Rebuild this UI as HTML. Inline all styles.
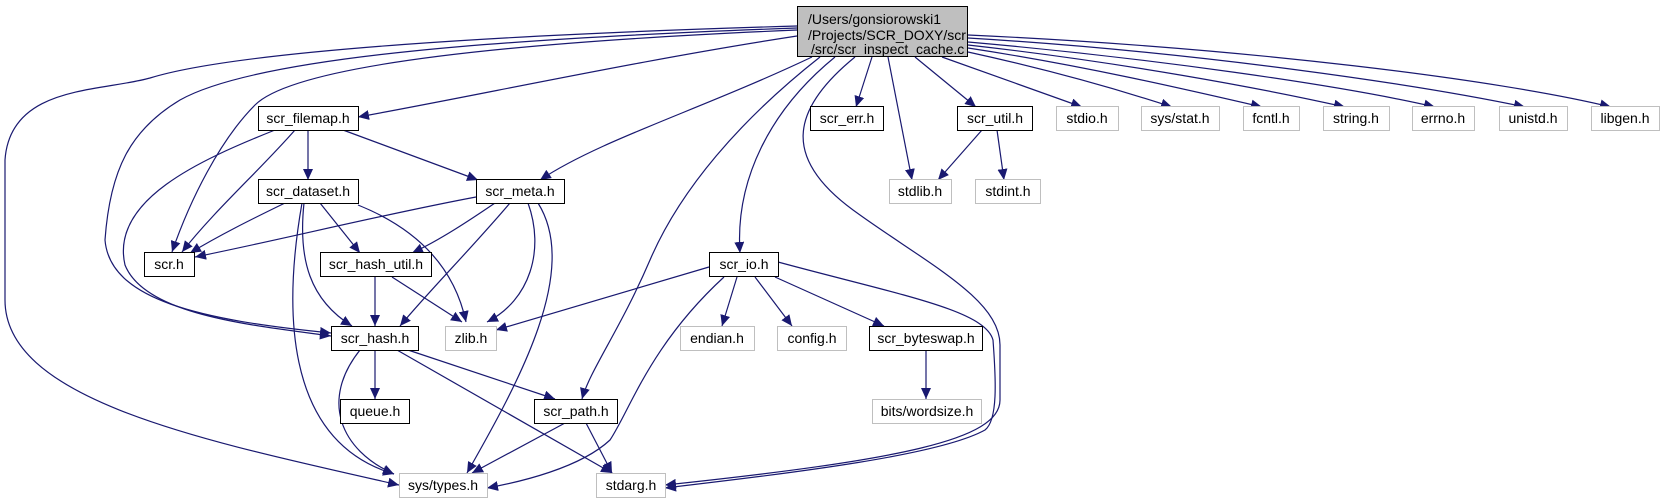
<!DOCTYPE html>
<html><head><meta charset="utf-8"><style>
html,body{margin:0;padding:0;background:#fff;}
svg{display:block;}
text{font-family:"Liberation Sans",Helvetica,Arial,sans-serif;font-size:14px;fill:#000;}
</style></head><body>
<svg width="1665" height="503" viewBox="0 0 1665 503" xmlns="http://www.w3.org/2000/svg">
<defs>
<marker id="a" markerUnits="userSpaceOnUse" markerWidth="12" markerHeight="10" refX="11" refY="5" orient="auto">
<polygon points="0,0 11,5 0,10" fill="#191970"/>
</marker>
</defs>
<g fill="none" stroke="#191970" stroke-width="1.2" marker-end="url(#a)">
<path d="M797,36 C640,60 480,95 358,117"/>
<path d="M797,30 C560,40 300,60 255,105 C220,140 190,200 172,252"/>
<path d="M797,28 C520,38 260,55 180,100 C130,130 110,170 105,240 C110,300 200,320 331,333"/>
<path d="M797,26 C520,34 240,50 150,78 C100,92 10,85 5,160 L5,300 C5,400 200,440 399,485"/>
<path d="M812,57 C700,110 600,140 540,180"/>
<path d="M820,57 C740,120 680,190 650,260 C620,330 590,370 582,399"/>
<path d="M835,57 C770,110 735,180 740,253"/>
<path d="M855,57 C790,110 780,160 860,215 C930,265 1000,300 1000,345 L1000,400 C1000,440 900,460 665,485"/>
<path d="M872,57 L856,107"/>
<path d="M888,57 L912,180"/>
<path d="M915,57 L976,107"/>
<path d="M942,57 L1082,107"/>
<path d="M968,52 C1050,70 1120,90 1172,107"/>
<path d="M968,48 C1080,65 1180,88 1262,107"/>
<path d="M968,45 C1120,62 1260,88 1345,107"/>
<path d="M968,42 C1150,58 1340,85 1435,107"/>
<path d="M968,38 C1200,52 1420,85 1525,107"/>
<path d="M968,35 C1250,48 1500,80 1611,107"/>
<path d="M308,130 L308,180"/>
<path d="M343,130 L478,180"/>
<path d="M295,130 C260,170 215,210 182,252"/>
<path d="M275,130 C200,160 110,200 125,265 C145,315 250,325 331,336"/>
<path d="M285,203 C250,220 220,235 190,253"/>
<path d="M320,203 L360,253"/>
<path d="M304,203 C298,260 310,300 352,326"/>
<path d="M302,203 C285,300 280,440 394,474"/>
<path d="M358,205 C420,230 455,270 466,322"/>
<path d="M476,197 C380,215 280,240 195,257"/>
<path d="M495,203 C470,220 440,240 412,253"/>
<path d="M510,203 C470,250 430,290 400,326"/>
<path d="M528,203 C545,250 530,300 487,322"/>
<path d="M538,203 C580,270 520,380 467,473"/>
<path d="M982,130 L938,180"/>
<path d="M997,130 L1004,180"/>
<path d="M375,277 L375,326"/>
<path d="M392,277 L462,322"/>
<path d="M709,267 L496,330"/>
<path d="M755,277 L792,326"/>
<path d="M775,277 L884,326"/>
<path d="M737,277 L722,326"/>
<path d="M724,277 C650,345 630,410 610,440 C580,468 520,482 487,488"/>
<path d="M778,262 C900,295 985,310 993,340 C996,380 998,420 985,430 C940,455 800,472 665,488"/>
<path d="M375,350 L375,399"/>
<path d="M408,350 L555,399"/>
<path d="M397,350 L612,473"/>
<path d="M360,350 C320,400 340,450 394,474"/>
<path d="M565,423 L472,473"/>
<path d="M586,423 L612,473"/>
<path d="M926,350 L926,399"/>
</g>
<g fill="#fff" stroke="#000" stroke-width="1">
<rect x="797.5" y="6.5" width="170" height="50" fill="#bfbfbf"/>
<rect x="258.5" y="106.5" width="100" height="24"/>
<rect x="810.5" y="106.5" width="73" height="24"/>
<rect x="957.5" y="106.5" width="75" height="24"/>
<rect x="258.5" y="179.5" width="100" height="24"/>
<rect x="476.5" y="179.5" width="88" height="24"/>
<rect x="144.5" y="252.5" width="50" height="24"/>
<rect x="320.5" y="252.5" width="111" height="24"/>
<rect x="709.5" y="252.5" width="69" height="24"/>
<rect x="331.5" y="326.5" width="87" height="24"/>
<rect x="869.5" y="326.5" width="113" height="24"/>
<rect x="340.5" y="399.5" width="69" height="24"/>
<rect x="534.5" y="399.5" width="83" height="24"/>
</g>
<g fill="#fff" stroke="#bfbfbf" stroke-width="1">
<rect x="1056.5" y="106.5" width="62" height="24"/>
<rect x="1141.5" y="106.5" width="78" height="24"/>
<rect x="1243.5" y="106.5" width="56" height="24"/>
<rect x="1323.5" y="106.5" width="66" height="24"/>
<rect x="1412.5" y="106.5" width="62" height="24"/>
<rect x="1499.5" y="106.5" width="68" height="24"/>
<rect x="1591.5" y="106.5" width="68" height="24"/>
<rect x="889.5" y="179.5" width="62" height="24"/>
<rect x="975.5" y="179.5" width="65" height="24"/>
<rect x="445.5" y="326.5" width="51" height="24"/>
<rect x="680.5" y="326.5" width="74" height="24"/>
<rect x="777.5" y="326.5" width="69" height="24"/>
<rect x="872.5" y="399.5" width="109" height="24"/>
<rect x="399.5" y="473.5" width="88" height="24"/>
<rect x="596.5" y="473.5" width="69" height="24"/>
</g>
<text x="808" y="24">/Users/gonsiorowski1</text>
<text x="808" y="40">/Projects/SCR_DOXY/scr</text>
<text x="811" y="54">/src/scr_inspect_cache.c</text>
<g text-anchor="middle">
<text x="308" y="123">scr_filemap.h</text>
<text x="847" y="123">scr_err.h</text>
<text x="995" y="123">scr_util.h</text>
<text x="1087" y="123">stdio.h</text>
<text x="1180" y="123">sys/stat.h</text>
<text x="1271" y="123">fcntl.h</text>
<text x="1356" y="123">string.h</text>
<text x="1443" y="123">errno.h</text>
<text x="1533" y="123">unistd.h</text>
<text x="1625" y="123">libgen.h</text>
<text x="308" y="196">scr_dataset.h</text>
<text x="520" y="196">scr_meta.h</text>
<text x="920" y="196">stdlib.h</text>
<text x="1008" y="196">stdint.h</text>
<text x="169" y="269">scr.h</text>
<text x="376" y="269">scr_hash_util.h</text>
<text x="744" y="269">scr_io.h</text>
<text x="375" y="343">scr_hash.h</text>
<text x="471" y="343">zlib.h</text>
<text x="717" y="343">endian.h</text>
<text x="812" y="343">config.h</text>
<text x="926" y="343">scr_byteswap.h</text>
<text x="375" y="416">queue.h</text>
<text x="576" y="416">scr_path.h</text>
<text x="927" y="416">bits/wordsize.h</text>
<text x="443" y="490">sys/types.h</text>
<text x="631" y="490">stdarg.h</text>
</g>
</svg>
</body></html>
